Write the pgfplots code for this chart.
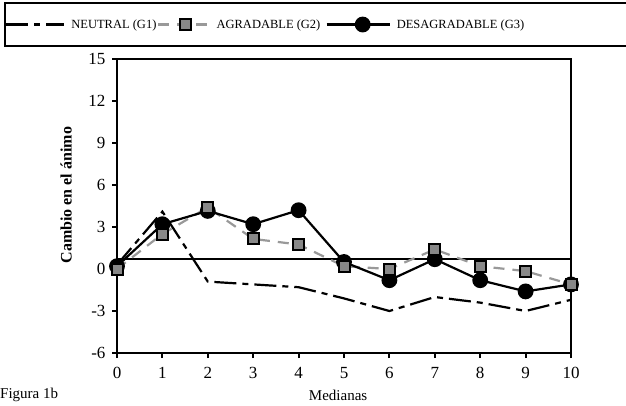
\documentclass[border=0pt]{standalone}
\usepackage{fontspec}
\setmainfont{Liberation Serif}
\usepackage{pgfplots}
\pgfplotsset{compat=1.18}
\definecolor{sqfill}{HTML}{888888}
\definecolor{dashgray}{HTML}{999999}
\begin{document}
\begin{tikzpicture}
\useasboundingbox (0pt,0pt) rectangle (626pt,-405pt);
\draw[line width=2pt] (5pt,-3pt) rectangle (700pt,-46pt);
\begin{axis}[
  at={(117pt,-353pt)}, anchor=south west,
  scale only axis, width=454pt, height=294pt,
  xmin=0, xmax=10, ymin=-6, ymax=15,
  xtick={0,1,...,10}, ytick={-6,-3,0,3,6,9,12,15},
  xtick pos=bottom, ytick pos=left,
  tick align=outside, major tick length=5pt,
  axis line style={line width=2pt},
  every tick/.style={black, line width=2pt},
  /pgf/number format/assume math mode=true,
  tick label style={font=\fontsize{17}{19}\selectfont},
  xticklabel style={yshift=-6pt},
  yticklabel style={xshift=-3pt},
  xlabel={Medianas},
  xlabel style={font=\fontsize{15}{17}\selectfont, at={(axis description cs:0.487,-0.143)}, anchor=center},
  ylabel={Cambio en el ánimo},
  ylabel style={font=\bfseries\fontsize{16}{18}\selectfont, at={(axis description cs:-0.112,0.537)}, anchor=center, rotate=0},
  legend columns=3,
  legend style={draw=none, fill=none, at={(axis description cs:-0.2467,1.1173)}, anchor=west,
    inner sep=0pt, font=\fontsize{12.5}{14}\selectfont,
    /tikz/every odd column/.append style={column sep=4pt}},
  legend cell align=left,
  clip=false,
]
\addplot[black, line width=2pt, forget plot] coordinates {(0,0.7) (10,0.7)};

\addplot[black, line width=2.2pt, dash pattern=on 22pt off 6pt on 6pt off 6pt,
  legend image code/.code={\draw[black, line width=2.2pt, dash pattern=on 22pt off 6pt on 6pt off 6pt] (0pt,0pt) -- (58pt,0pt);}]
  coordinates {(0,0.3) (1,4.1) (2,-0.9) (3,-1.1) (4,-1.3) (5,-2.1) (6,-3.0) (7,-2.0) (8,-2.4) (9,-3.0) (10,-2.2)};
\addlegendentry{\makebox[84pt][l]{NEUTRAL (G1)}}

\addplot[dashgray, line width=2.2pt, dash pattern=on 11pt off 8pt,
  mark=square*, mark size=5.5pt, mark options={solid, fill=sqfill, draw=black, line width=2pt},
  legend image code/.code={\draw[dashgray, line width=2.2pt, dash pattern=on 11pt off 8pt] (0pt,0pt) -- (51pt,0pt);
     \draw[solid, fill=sqfill, draw=black, line width=2pt] (22pt,-5.5pt) rectangle (33pt,5.5pt);}]
  coordinates {(0,0) (1,2.5) (2,4.4) (3,2.15) (4,1.75) (5,0.2) (6,0.0) (7,1.4) (8,0.2) (9,-0.15) (10,-1.1)};
\addlegendentry{\makebox[107pt][l]{AGRADABLE (G2)}}

\addplot[black, line width=2.2pt, mark=*, mark size=6.8pt, mark options={solid, fill=black},
  legend image code/.code={\draw[black, line width=2.2pt] (0pt,0pt) -- (63pt,0pt);
     \fill[black] (36pt,0pt) circle (6.8pt);}]
  coordinates {(0,0.2) (1,3.2) (2,4.15) (3,3.2) (4,4.2) (5,0.5) (6,-0.8) (7,0.7) (8,-0.8) (9,-1.6) (10,-1.1)};
\addlegendentry{DESAGRADABLE (G3)}

\addplot[only marks, mark=square*, mark size=5.5pt, mark options={solid, fill=sqfill, draw=black, line width=2pt}, forget plot]
  coordinates {(0,0) (1,2.5) (2,4.4) (3,2.15) (4,1.75) (5,0.2) (6,0.0) (7,1.4) (8,0.2) (9,-0.15) (10,-1.1)};
\end{axis}
\node[anchor=west, font=\fontsize{15}{17}\selectfont, inner sep=0pt] at (0pt,-395pt) {Figura 1b};
\end{tikzpicture}
\end{document}
